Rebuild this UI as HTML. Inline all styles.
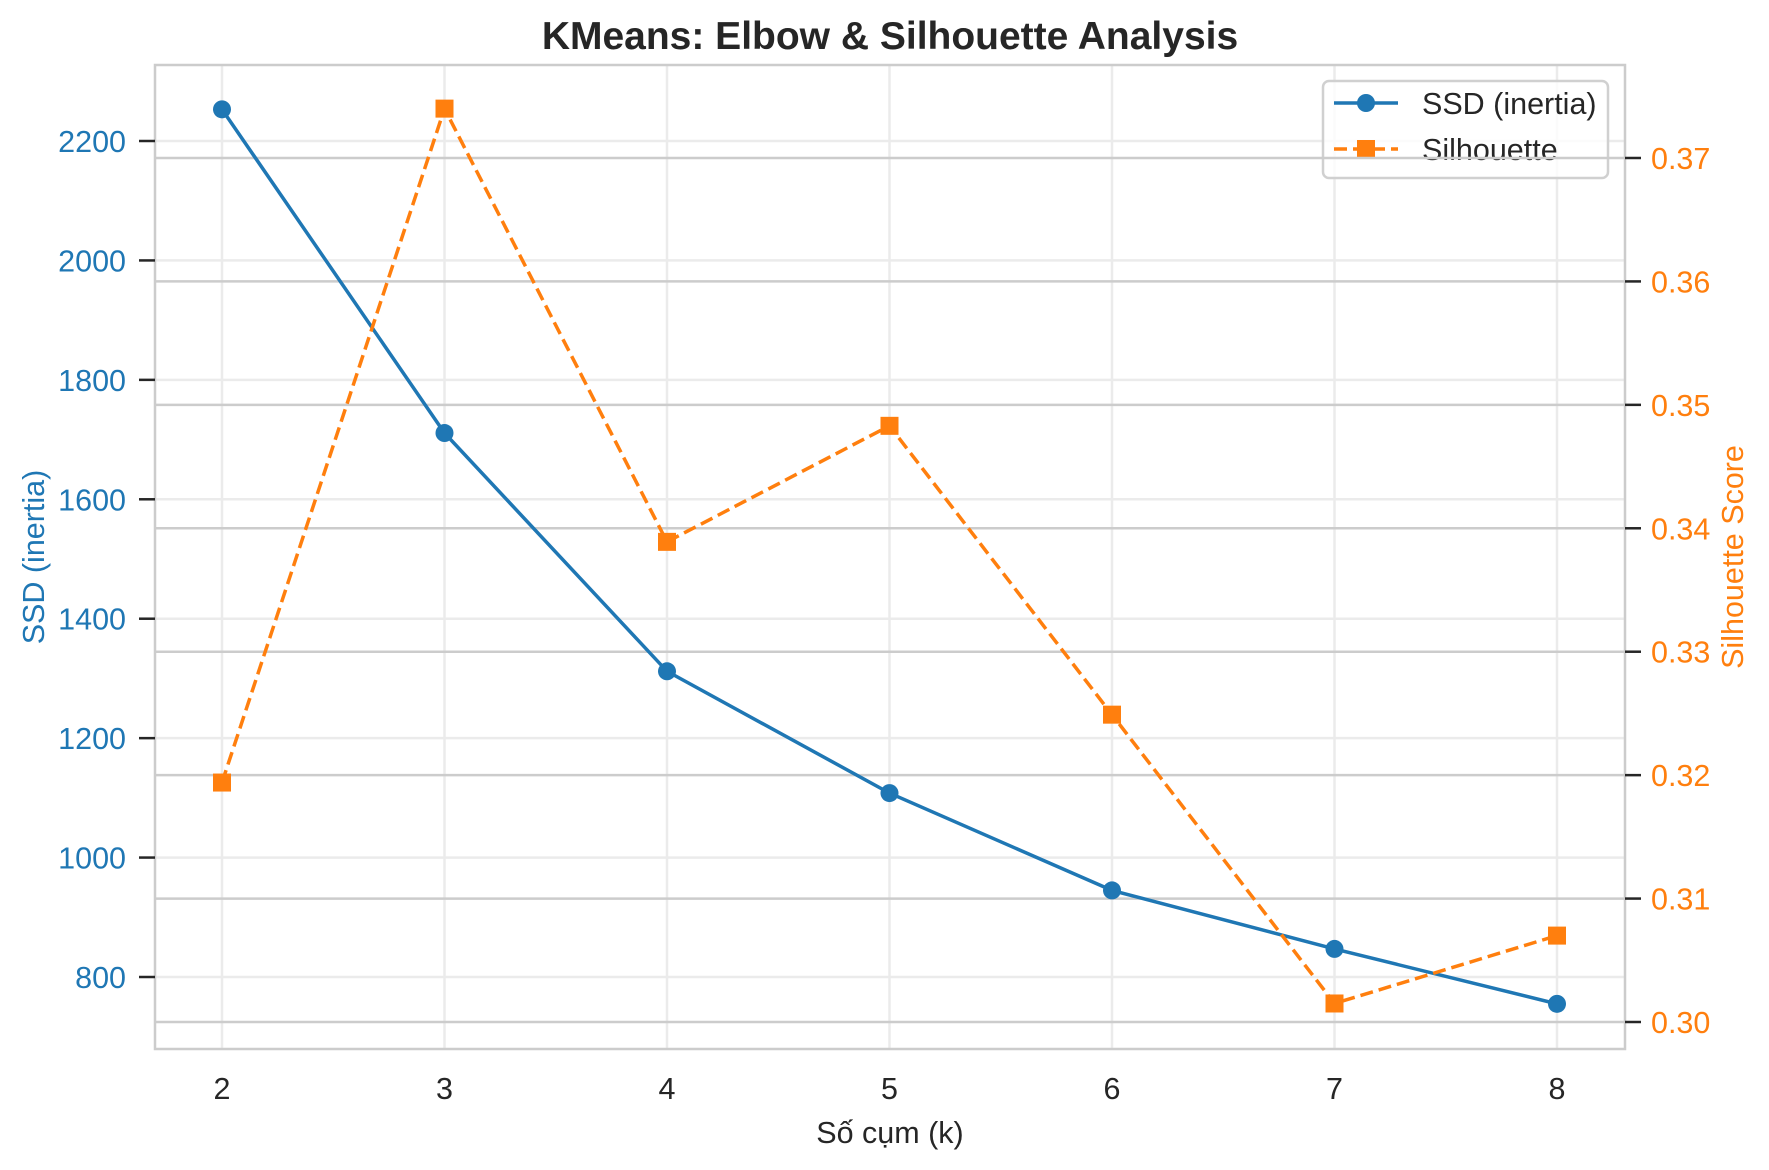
<!DOCTYPE html>
<html><head><meta charset="utf-8"><style>
html,body{margin:0;padding:0;background:#fff;}
svg{display:block;font-family:"Liberation Sans",Arial,sans-serif;}
</style></head><body>
<svg id="chart" width="1769" height="1170" viewBox="0 0 1769 1170" xmlns="http://www.w3.org/2000/svg">
<rect width="1769" height="1170" fill="#fff"/>
<text x="890" y="49" text-anchor="middle" font-size="39" font-weight="bold" fill="#262626">KMeans: Elbow &amp; Silhouette Analysis</text>
<g id="g-grid"></g>
<g id="g-legend"></g>
<g id="g-grid2"></g>
<g id="g-series"></g>
<g id="g-axes"></g>
</svg>
<script>
const ks = [2, 3, 4, 5, 6, 7, 8];
const ssd = [2253, 1711, 1312, 1108, 945, 847, 755];
const sil = [0.3194, 0.374, 0.3389, 0.3483, 0.3249, 0.3015, 0.307];
const ssdTicks = [800, 1000, 1200, 1400, 1600, 1800, 2000, 2200];
const silTicks = [0.30, 0.31, 0.32, 0.33, 0.34, 0.35, 0.36, 0.37];

const L = 155, R = 1625, T = 65, B = 1049;
const FS = 30.5;
const NS = 'http://www.w3.org/2000/svg';
function xs(k){ return 222 + (k - 2) * 222.5; }
function ys(v){ return 977 - (v - 800) * (836 / 1400); }
function ys2(v){ return 1022 - (v - 0.30) * 12343; }
function mk(parent, tag, attrs, text){
  const e = document.createElementNS(NS, tag);
  for (const k in attrs) e.setAttribute(k, attrs[k]);
  if (text !== undefined) e.textContent = text;
  document.getElementById(parent).appendChild(e);
  return e;
}
ks.forEach(k => {
  const e = mk('g-grid', 'line', {x1: xs(k), x2: xs(k), y1: T, y2: B, stroke: '#ebebeb', 'stroke-width': 2.5});
  
  
});
ssdTicks.forEach(v => {
  const e = mk('g-grid', 'line', {x1: L, x2: R, y1: ys(v), y2: ys(v), stroke: '#ebebeb', 'stroke-width': 2.5});
  
  
});
const lg = mk('g-legend', 'rect', {x: 1323, y: 81, width: 285, height: 97, rx: 6, fill: '#fff', 'fill-opacity': 0.8, stroke: '#d0d0d0', 'stroke-width': 2.5});


const l1 = mk('g-legend', 'line', {x1: 1334, x2: 1398, y1: 103, y2: 103, stroke: '#1f77b4', 'stroke-width': 3.5});


mk('g-legend', 'circle', {cx: 1366, cy: 103, r: 9, fill: '#1f77b4'});
const t1 = mk('g-legend', 'text', {x: 1422, y: 114, 'font-size': FS, fill: '#262626'}, 'SSD (inertia)');


const l2 = mk('g-legend', 'line', {x1: 1334, x2: 1398, y1: 149, y2: 149, stroke: '#ff7f0e', 'stroke-width': 3.5, 'stroke-dasharray': '13 6'});


mk('g-legend', 'rect', {x: 1357, y: 140, width: 18, height: 18, fill: '#ff7f0e'});
const t2 = mk('g-legend', 'text', {x: 1422, y: 160, 'font-size': FS, fill: '#262626'}, 'Silhouette');


silTicks.forEach(v => {
  const e = mk('g-grid2', 'line', {x1: L, x2: R, y1: ys2(v), y2: ys2(v), stroke: '#cccccc', 'stroke-width': 2.5});
  
  
});
const p1 = mk('g-series', 'polyline', {points: ks.map((k, i) => xs(k) + ',' + ys(ssd[i])).join(' '), fill: 'none', stroke: '#1f77b4', 'stroke-width': 3.5});


ks.forEach((k, i) => {
  const c = mk('g-series', 'circle', {cx: xs(k), cy: ys(ssd[i]), r: 9, fill: '#1f77b4'});
  
  
});
const p2 = mk('g-series', 'polyline', {points: ks.map((k, i) => xs(k) + ',' + ys2(sil[i])).join(' '), fill: 'none', stroke: '#ff7f0e', 'stroke-width': 3.5, 'stroke-dasharray': '13 6'});


ks.forEach((k, i) => {
  const s = mk('g-series', 'rect', {x: xs(k) - 9, y: ys2(sil[i]) - 9, width: 18, height: 18, fill: '#ff7f0e'});
  
  
});
const sp = mk('g-axes', 'rect', {x: L, y: T, width: R - L, height: B - T, fill: 'none', stroke: '#cccccc', 'stroke-width': 2.5});


ks.forEach(k => {
  const t = mk('g-axes', 'text', {x: xs(k), y: 1099, 'text-anchor': 'middle', 'font-size': FS, fill: '#262626'}, String(k));
  
  
});
ssdTicks.forEach(v => {
  mk('g-axes', 'line', {x1: L - 16, x2: L, y1: ys(v), y2: ys(v), stroke: '#262626', 'stroke-width': 2.5});
  const t = mk('g-axes', 'text', {x: 126, y: ys(v) + 11, 'text-anchor': 'end', 'font-size': FS, fill: '#1f77b4'}, String(v));
  
  
});
silTicks.forEach(v => {
  mk('g-axes', 'line', {x1: R, x2: R + 16, y1: ys2(v), y2: ys2(v), stroke: '#262626', 'stroke-width': 2.5});
  const t = mk('g-axes', 'text', {x: 1651, y: ys2(v) + 11, 'font-size': FS, fill: '#ff7f0e'}, v.toFixed(2));
  
  
});
const xl = mk('g-axes', 'text', {x: 890, y: 1143, 'text-anchor': 'middle', 'font-size': FS, fill: '#262626'}, 'Số cụm (k)');


const yl = mk('g-axes', 'text', {x: 0, y: 0, transform: 'translate(44,557) rotate(-90)', 'text-anchor': 'middle', 'font-size': FS, fill: '#1f77b4'}, 'SSD (inertia)');


const yr = mk('g-axes', 'text', {x: 0, y: 0, transform: 'translate(1743,557) rotate(-90)', 'text-anchor': 'middle', 'font-size': FS, fill: '#ff7f0e'}, 'Silhouette Score');


</script>
</body></html>
